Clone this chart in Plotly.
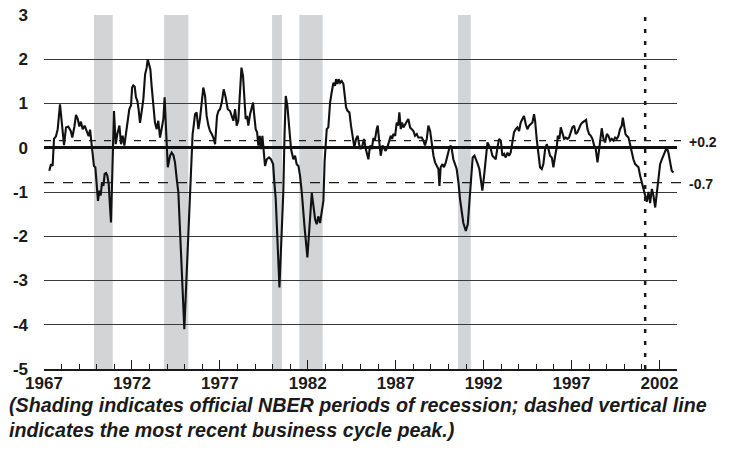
import plotly.graph_objects as go

# ---------------- data ----------------
years = [
    1967.30, 1967.40, 1967.49, 1967.57, 1967.68, 1967.78, 1967.91, 1968.00, 1968.14, 1968.25,
    1968.38, 1968.52, 1968.61, 1968.73, 1968.82, 1968.92, 1969.01, 1969.10, 1969.20, 1969.31,
    1969.43, 1969.54, 1969.62, 1969.69, 1969.77, 1969.84, 1969.92, 1970.00, 1970.07, 1970.15,
    1970.22, 1970.30, 1970.38, 1970.45, 1970.53, 1970.60, 1970.68, 1970.75, 1970.81, 1970.98,
    1971.08, 1971.17, 1971.29, 1971.38, 1971.47, 1971.57, 1971.66, 1971.78, 1971.85, 1971.95,
    1972.01, 1972.08, 1972.16, 1972.23, 1972.31, 1972.38, 1972.46, 1972.56, 1972.65, 1972.75,
    1972.84, 1972.90, 1972.97, 1973.05, 1973.12, 1973.22, 1973.31, 1973.41, 1973.50, 1973.60,
    1973.67, 1973.79, 1973.86, 1973.95, 1974.04, 1974.17, 1974.26, 1974.36, 1974.45, 1974.55,
    1974.64, 1974.98, 1975.34, 1975.45, 1975.49, 1975.59, 1975.68, 1975.78, 1975.87, 1975.97,
    1976.06, 1976.16, 1976.25, 1976.35, 1976.44, 1976.54, 1976.63, 1976.73, 1976.77, 1976.84,
    1976.92, 1977.01, 1977.11, 1977.22, 1977.33, 1977.45, 1977.58, 1977.68, 1977.77, 1977.87,
    1977.96, 1978.05, 1978.15, 1978.23, 1978.32, 1978.40, 1978.47, 1978.55, 1978.62, 1978.72,
    1978.81, 1978.89, 1978.96, 1979.04, 1979.12, 1979.19, 1979.27, 1979.34, 1979.42, 1979.50,
    1979.57, 1979.67, 1979.80, 1979.91, 1980.03, 1980.10, 1980.18, 1980.39, 1980.61, 1980.68,
    1980.75, 1980.84, 1980.94, 1981.05, 1981.18, 1981.28, 1981.37, 1981.47, 1981.56, 1981.66,
    1981.82, 1981.98, 1982.23, 1982.42, 1982.51, 1982.60, 1982.70, 1982.80, 1982.89, 1982.96,
    1983.00, 1983.08, 1983.17, 1983.27, 1983.36, 1983.46, 1983.55, 1983.61, 1983.69, 1983.76,
    1983.84, 1983.93, 1984.03, 1984.08, 1984.18, 1984.27, 1984.37, 1984.46, 1984.56, 1984.65,
    1984.75, 1984.84, 1984.92, 1985.01, 1985.11, 1985.20, 1985.30, 1985.39, 1985.45, 1985.54,
    1985.64, 1985.73, 1985.83, 1985.92, 1985.98, 1986.07, 1986.15, 1986.25, 1986.34, 1986.43,
    1986.53, 1986.62, 1986.72, 1986.80, 1986.87, 1986.97, 1987.06, 1987.14, 1987.21, 1987.29,
    1987.36, 1987.44, 1987.53, 1987.63, 1987.72, 1987.82, 1987.91, 1988.01, 1988.10, 1988.20,
    1988.29, 1988.48, 1988.58, 1988.67, 1988.77, 1988.86, 1988.96, 1989.05, 1989.15, 1989.24,
    1989.34, 1989.43, 1989.49, 1989.56, 1989.66, 1989.75, 1989.85, 1989.94, 1990.04, 1990.13,
    1990.19, 1990.28, 1990.38, 1990.47, 1990.57, 1990.66, 1990.85, 1990.99, 1991.10, 1991.19,
    1991.27, 1991.38, 1991.48, 1991.57, 1991.67, 1991.76, 1991.86, 1991.93, 1992.03, 1992.12,
    1992.22, 1992.31, 1992.41, 1992.50, 1992.60, 1992.69, 1992.79, 1992.88, 1992.98, 1993.07,
    1993.17, 1993.26, 1993.36, 1993.45, 1993.54, 1993.64, 1993.73, 1993.83, 1993.92, 1994.02,
    1994.11, 1994.21, 1994.30, 1994.40, 1994.49, 1994.59, 1994.68, 1994.78, 1994.87, 1994.93,
    1995.02, 1995.12, 1995.21, 1995.31, 1995.40, 1995.50, 1995.59, 1995.69, 1995.78, 1995.88,
    1995.97, 1996.07, 1996.16, 1996.22, 1996.31, 1996.39, 1996.48, 1996.58, 1996.67, 1996.77,
    1996.86, 1996.96, 1997.05, 1997.15, 1997.24, 1997.34, 1997.43, 1997.53, 1997.62, 1997.74,
    1997.83, 1997.91, 1998.00, 1998.10, 1998.19, 1998.29, 1998.38, 1998.48, 1998.57, 1998.66,
    1998.72, 1998.82, 1998.91, 1999.01, 1999.10, 1999.20, 1999.29, 1999.39, 1999.48, 1999.58,
    1999.67, 1999.76, 1999.86, 1999.92, 1999.99, 2000.07, 2000.14, 2000.24, 2000.33, 2000.43,
    2000.52, 2000.62, 2000.71, 2000.81, 2000.90, 2001.00, 2001.09, 2001.19, 2001.28, 2001.38,
    2001.47, 2001.57, 2001.66, 2001.76, 2001.85, 2001.95, 2002.04, 2002.14, 2002.23, 2002.32,
    2002.42, 2002.51, 2002.61, 2002.70, 2002.80,
]

cfnai_ma3 = [
    -0.52, -0.37, -0.41, 0.20, 0.26, 0.42, 0.98, 0.65, 0.06, 0.46,
    0.48, 0.38, 0.23, 0.48, 0.74, 0.65, 0.48, 0.59, 0.42, 0.50,
    0.35, 0.26, 0.41, 0.14, -0.03, -0.41, -0.44, -0.93, -1.20, -0.97,
    -1.08, -0.78, -0.86, -0.59, -0.57, -0.63, -0.82, -1.31, -1.69, 0.83,
    0.08, 0.31, 0.50, 0.08, 0.27, 0.05, 0.35, 0.61, 0.87, 0.96,
    1.36, 1.41, 1.38, 1.14, 1.06, 0.87, 0.56, 0.83, 1.10, 1.66,
    1.81, 2.00, 1.89, 1.77, 1.40, 1.02, 0.57, 0.42, 0.61, 0.23,
    0.38, 0.65, 1.14, 0.40, -0.44, -0.18, -0.11, -0.17, -0.33, -0.71,
    -1.00, -4.10, -0.60, 0.30, 0.42, 0.76, 0.80, 0.42, 0.65, 1.02,
    1.36, 1.17, 0.72, 0.50, 0.38, 0.31, 0.23, 0.08, 0.35, 0.72,
    0.83, 0.87, 1.02, 1.32, 1.14, 0.87, 0.83, 0.68, 0.61, 0.87,
    0.50, 0.61, 1.17, 1.81, 1.62, 1.14, 0.65, 0.72, 0.50, 0.76,
    0.87, 1.02, 0.72, 0.42, 0.35, 0.05, 0.27, -0.03, 0.27, -0.11,
    -0.41, -0.26, -0.22, -0.26, -0.37, -0.78, -1.16, -3.16, -1.00, 0.30,
    1.17, 0.95, 0.50, -0.03, -0.26, -0.18, -0.37, -0.41, -0.63, -1.00,
    -1.80, -2.48, -1.02, -1.62, -1.73, -1.55, -1.70, -1.44, -1.20, -0.30,
    -0.11, 0.42, 0.46, 1.02, 1.25, 1.47, 1.40, 1.55, 1.44, 1.55,
    1.47, 1.51, 1.44, 1.29, 0.91, 0.83, 0.80, 0.50, 0.23, 0.01,
    0.20, 0.27, 0.08, -0.03, 0.05, 0.20, -0.03, -0.18, -0.26, 0.05,
    -0.03, 0.20, 0.20, 0.42, 0.50, 0.12, -0.18, 0.05, -0.03, -0.07,
    0.01, 0.16, 0.27, 0.20, 0.31, 0.27, 0.57, 0.50, 0.80, 0.42,
    0.57, 0.46, 0.53, 0.61, 0.65, 0.46, 0.42, 0.38, 0.27, 0.31,
    0.23, 0.23, 0.16, 0.05, 0.20, 0.50, 0.38, 0.05, -0.18, -0.33,
    -0.41, -0.48, -0.86, -0.44, -0.37, -0.44, -0.33, -0.18, -0.03, 0.05,
    -0.03, -0.26, -0.41, -0.48, -0.78, -1.16, -1.70, -1.88, -1.73, -1.20,
    -0.70, -0.22, -0.18, -0.26, -0.37, -0.48, -0.71, -0.97, -0.63, -0.18,
    0.12, 0.05, -0.03, -0.18, -0.22, -0.26, 0.01, 0.20, 0.16, -0.18,
    -0.14, -0.22, -0.11, -0.18, -0.11, 0.16, 0.35, 0.42, 0.46, 0.38,
    0.57, 0.65, 0.72, 0.53, 0.42, 0.50, 0.53, 0.57, 0.76, 0.61,
    0.20, -0.11, -0.44, -0.48, -0.37, -0.03, 0.08, -0.03, -0.18, -0.22,
    -0.44, -0.18, 0.01, 0.27, 0.20, 0.46, 0.35, 0.20, 0.23, 0.20,
    0.23, 0.38, 0.46, 0.50, 0.31, 0.35, 0.46, 0.53, 0.57, 0.61,
    0.63, 0.42, 0.31, 0.27, 0.20, 0.05, -0.03, -0.33, -0.03, 0.38,
    0.44, 0.20, 0.12, 0.31, 0.27, 0.16, 0.20, 0.16, 0.23, 0.20,
    0.27, 0.42, 0.50, 0.68, 0.50, 0.31, 0.27, 0.23, 0.08, -0.11,
    -0.26, -0.37, -0.41, -0.44, -0.63, -0.78, -0.93, -1.08, -1.22, -1.00,
    -1.25, -0.93, -1.08, -1.35, -1.00, -0.63, -0.37, -0.26, -0.18, -0.07,
    0.01, -0.11, -0.33, -0.52, -0.56,
]

recession_starts = [1969.84, 1973.83, 1979.97, 1981.52, 1990.55]
recession_ends = [1970.91, 1975.21, 1980.54, 1982.85, 1991.27]
peak_year = 2001.19
threshold_levels = [0.16, -0.79]
threshold_labels = ["+0.2", "-0.7"]
x_tick_years = [1967, 1972, 1977, 1982, 1987, 1992, 1997, 2002]
x_tick_labels = [str(y) for y in x_tick_years]
y_ticks = [3, 2, 1, 0, -1, -2, -3, -4, -5]
y_tick_labels = [str(v) for v in y_ticks]
caption_lines = [
    "(Shading indicates official NBER periods of recession; dashed vertical line",
    "indicates the most recent business cycle peak.)",
]

FONT = "Liberation Sans, Arial, sans-serif"

fig = go.Figure()

fig.add_trace(go.Scatter(
    x=years, y=cfnai_ma3, mode="lines",
    line=dict(color="#111111", width=2.1),
    hoverinfo="skip", showlegend=False,
))

shapes = []
for s, e in zip(recession_starts, recession_ends):
    shapes.append(dict(type="rect", xref="x", yref="y", x0=s, x1=e, y0=-5, y1=3,
                       fillcolor="#d3d4d6", line=dict(width=0), layer="below"))

dash_patterns = ["7px,8px", "10px,9px"]
for lvl, dp in zip(threshold_levels, dash_patterns):
    shapes.append(dict(type="line", xref="paper", yref="y", x0=0, x1=1.0095, y0=lvl, y1=lvl,
                       line=dict(color="#1a1a1a", width=1.3, dash=dp), layer="above"))

shapes.append(dict(type="line", xref="x", yref="y", x0=peak_year, x1=peak_year, y0=-5, y1=3,
                   line=dict(color="#1a1a1a", width=2.5, dash="4px,8px"), layer="above"))

annotations = []
for lvl, lab in zip(threshold_levels, threshold_labels):
    annotations.append(dict(xref="paper", yref="y", x=1.0165, y=lvl, text="<b>" + lab + "</b>",
                            showarrow=False, xanchor="left", yanchor="middle", yshift=-1,
                            font=dict(family=FONT, size=14, color="#1a1a1a")))

caption_y = [-0.066, -0.137]
for line_text, cy in zip(caption_lines, caption_y):
    annotations.append(dict(xref="paper", yref="paper", x=-0.059, y=cy, text="<b><i>" + line_text + "</i></b>",
                            showarrow=False, xanchor="left", yanchor="top",
                            font=dict(family=FONT, size=19.7, color="#1a1a1a")))

fig.update_layout(
    template="none",
    width=730, height=458,
    margin=dict(l=44, r=53, t=15, b=89, autoexpand=False),
    paper_bgcolor="white", plot_bgcolor="white",
    shapes=shapes, annotations=annotations,
    xaxis=dict(
        range=[1967, 2003], showgrid=False, zeroline=False, automargin=False,
        showline=True, linecolor="#1a1a1a", linewidth=2,
        ticks="inside", ticklen=9, tickwidth=1.3, tickcolor="#1a1a1a",
        tickvals=x_tick_years, ticktext=x_tick_labels, ticklabelstandoff=-2,
        tickfont=dict(family=FONT, size=17, color="#1a1a1a", weight="bold"),
        minor=dict(ticks="inside", ticklen=5, tickwidth=1.2, tickcolor="#1a1a1a",
                   dtick=1, tick0=1967, showgrid=False),
    ),
    yaxis=dict(
        range=[-5, 3], showgrid=True, gridcolor="#3a3a3a", gridwidth=1.2, automargin=False,
        zeroline=True, zerolinecolor="#111111", zerolinewidth=2.6,
        showline=False, ticks="",
        tickvals=y_ticks, ticktext=y_tick_labels, ticklabelstandoff=15,
        tickfont=dict(family=FONT, size=17, color="#1a1a1a", weight="bold"),
    ),
)

fig.write_html(
    "out.html", config={"displayModeBar": False},
    post_script=(
        "document.body.style.margin='0';document.body.style.padding='0';"
        "var d=document.getElementById('{plot_id}');"
        "d.style.position='absolute';d.style.top='0px';d.style.left='0px';"
    ),
)
